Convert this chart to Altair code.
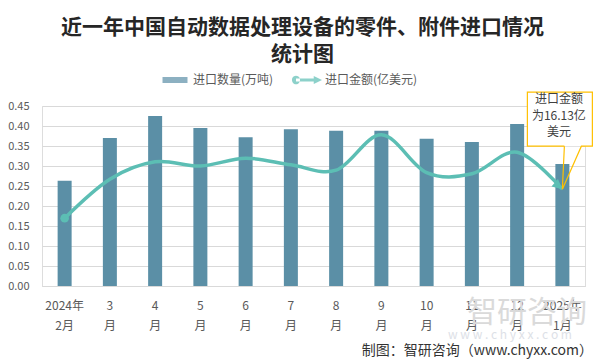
import altair as alt
import pandas as pd

# ---- data ----
months = ["2024年2月", "3月", "4月", "5月", "6月", "7月", "8月", "9月", "10月", "11月", "12月", "2025年1月"]
qty = [0.263, 0.370, 0.425, 0.395, 0.372, 0.392, 0.388, 0.388, 0.368, 0.360, 0.405, 0.305]   # 万吨
amount = [11.3, 17.8, 20.7, 20.0, 21.3, 20.2, 19.3, 25.2, 18.9, 18.7, 22.3, 16.13]          # 亿美元
series = ["进口数量(万吨)", "进口金额(亿美元)"]
y_ticks = [0.00, 0.05, 0.10, 0.15, 0.20, 0.25, 0.30, 0.35, 0.40, 0.45]
title_lines = ["近一年中国自动数据处理设备的零件、附件进口情况", "统计图"]
callout_lines = ["进口金额", "为16.13亿", "美元"]
source_text = ["制图：智研咨询（www.chyxx.com）"]
watermark_big = ["智研咨询"]
watermark_small = ["w w w . c h y x x . c o m"]

# ---- styles ----
BAR = "#5B8FA6"
LINE = "#5CBEB4"
GOLD = "#FFC000"
FONT = "Noto Sans CJK SC"
GRID = "#D9D9D9"
LABEL = "#595959"

RECT_PATH = "M-0.833,-0.2H0.833V0.2H-0.833Z"
LINE_PATH = ("M-0.733,-0.1H0.5V0.1H-0.733Z"
             "M-1,0A0.267,0.267,0,1,0,-0.467,0A0.267,0.267,0,1,0,-1,0Z"
             "M0.45,-0.27L1,0L0.45,0.27Z")
ARROW_PATH = "M0,0L-1,2L1,2Z"
BOX_FILL = "M-35,-97H30V-43H-35Z"
BOX_OUTLINE = "M2,-43H-35V-97H30V-43H19L0,0L2,-43"

df = pd.DataFrame({"month": months, "qty": qty, "amount": amount})

label_expr = ("indexof(datum.value,'年')>=0 ? "
              "[slice(datum.value,0,indexof(datum.value,'年')+1), slice(datum.value,indexof(datum.value,'年')+1)]"
              " : [slice(datum.value,0,length(datum.value)-1), '月']")

x_enc = alt.X("month:N", sort=months, title=None,
              scale=alt.Scale(paddingInner=0, paddingOuter=0),
              axis=alt.Axis(labelAngle=0, labelExpr=label_expr, labelFont=FONT, labelFontSize=12,
                            labelColor=LABEL, labelPadding=14, labelLineHeight=20, ticks=False,
                            domainColor=GRID, grid=False, labelBaseline="top"))

y_amt = alt.Y("amount:Q", scale=alt.Scale(domain=[0, 30], nice=False), axis=None)

bars = alt.Chart(df).mark_bar(size=14, color=BAR).encode(
    x=x_enc,
    y=alt.Y("qty:Q", title=None, scale=alt.Scale(domain=[0, 0.45], nice=False),
            axis=alt.Axis(values=y_ticks, format=".2f", labelFont=FONT, labelFontSize=11,
                          labelColor=LABEL, labelPadding=13, ticks=False, domain=False,
                          gridColor=GRID, gridWidth=1)),
)

line = alt.Chart(df).mark_line(interpolate="cardinal", color=LINE, strokeWidth=3.5).encode(
    x=alt.X("month:N", sort=months), y=y_amt)

start_pt = alt.Chart(df.iloc[[0]]).mark_point(filled=True, size=75, color=LINE, opacity=1).encode(
    x=alt.X("month:N", sort=months), y=y_amt)

arrow = alt.Chart(df.iloc[[-1]]).mark_point(shape=ARROW_PATH, size=100, angle=130, filled=True,
                                             color=LINE, opacity=1).encode(
    x=alt.X("month:N", sort=months), y=y_amt)

box_fill = alt.Chart(df.iloc[[-1]]).mark_point(shape=BOX_FILL, size=4, filled=True, fill="white",
                                                strokeWidth=0, opacity=1).encode(
    x=alt.X("month:N", sort=months), y=y_amt)

box_line = alt.Chart(df.iloc[[-1]]).mark_point(shape=BOX_OUTLINE, size=4, filled=False, stroke=GOLD,
                                                strokeWidth=1.2, opacity=1).encode(
    x=alt.X("month:N", sort=months), y=y_amt)

box_text = alt.Chart(df.iloc[[-1]]).mark_text(text=callout_lines, lineHeight=16.5, baseline="top",
                                               align="center", dx=-3.5, dy=-95, fontSize=12,
                                               font=FONT, color="#404040").encode(
    x=alt.X("month:N", sort=months), y=y_amt)

legend_def = alt.Legend(title=None, orient="none", direction="horizontal", legendX=118, legendY=-41,
                        labelFont=FONT, labelFontSize=12, labelColor=LABEL, symbolSize=900,
                        labelOffset=3, columnPadding=17, padding=0, symbolStrokeWidth=0)

legend_layer = alt.Chart(alt.InlineData(values=[{"series": s} for s in series])).mark_point(
    filled=True, size=0).encode(
    color=alt.Color("series:N", scale=alt.Scale(domain=series, range=[BAR, LINE]), legend=legend_def),
    shape=alt.Shape("series:N", scale=alt.Scale(domain=series, range=[RECT_PATH, LINE_PATH]), legend=legend_def),
)

wm_big = alt.Chart(pd.DataFrame({"t": watermark_big})).mark_text(
    font=FONT, fontSize=30, color="#DADADA", align="center", baseline="middle").encode(
    x=alt.value(485), y=alt.value(207), text="t:N")

wm_small = alt.Chart(pd.DataFrame({"t": watermark_small})).mark_text(
    font=FONT, fontSize=12, color="#DDE1E7", align="center", baseline="middle").encode(
    x=alt.value(468), y=alt.value(229), text="t:N")

source = alt.Chart(pd.DataFrame({"t": source_text})).mark_text(
    font=FONT, fontSize=14, color="#333333", align="right", baseline="middle").encode(
    x=alt.value(551), y=alt.value(245), text="t:N")

chart = alt.layer(
    wm_big, wm_small, bars, line, start_pt, arrow, box_fill, box_line, box_text, legend_layer, source
).resolve_scale(y="independent").properties(
    width=543, height=180,
    autosize="none",
    padding={"left": 34, "top": 98, "right": 12, "bottom": 77},
    title=alt.TitleParams(text=title_lines, font=FONT, fontSize=21, fontWeight="bold", color="#262626",
                          anchor="middle", frame="group", dx=-11, lineHeight=27, offset=0),
).configure_view(stroke=None).configure(background="white")

chart.save("out.html", embed_options={"renderer": "svg", "actions": False})
